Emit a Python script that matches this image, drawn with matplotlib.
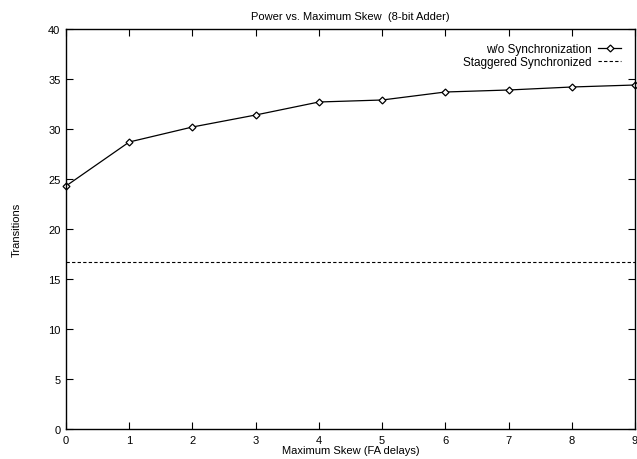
import matplotlib
matplotlib.use('Agg')
import matplotlib.pyplot as plt

plt.rcParams['font.family'] = ['Liberation Sans', 'DejaVu Sans']
plt.rcParams['font.size'] = 8

skew = [0, 1, 2, 3, 4, 5, 6, 7, 8, 9]
no_sync = [24.3, 28.7, 30.2, 31.4, 32.7, 32.9, 33.7, 33.9, 34.2, 34.4]
staggered = 16.7

fig = plt.figure(figsize=(6.37, 4.6), dpi=100)
ax = fig.add_axes([66 / 637, 30 / 460, 569 / 637, 400 / 460])

ax.plot(skew, no_sync, color='black', lw=0.9, marker='D', markersize=3.5,
        markerfacecolor='white', markeredgecolor='black', markeredgewidth=0.9,
        label='w/o Synchronization', clip_on=False)
ax.axhline(staggered, color='black', lw=0.8, ls=(0, (3, 2)),
           label='Staggered Synchronized')

ax.set_xlim(0, 9)
ax.set_ylim(0, 40)
ax.set_xticks(skew)
ax.set_yticks(range(0, 41, 5))
ax.tick_params(direction='in', top=True, right=True, length=5, width=0.8, pad=4)
for s in ax.spines.values():
    s.set_linewidth(1.0)

ax.set_title('Power vs. Maximum Skew  (8-bit Adder)', fontsize=8, pad=7)
ax.set_xlabel('Maximum Skew (FA delays)', fontsize=8, labelpad=0)
ax.set_ylabel('Transitions', fontsize=8)
ax.yaxis.set_label_coords(-44 / 569, 0.5)

ax.legend(loc='upper right', frameon=False, markerfirst=False, handlelength=1.9,
          handletextpad=0.6, labelspacing=0.1, borderaxespad=0.8, fontsize=8.5)

fig.savefig('out.png', dpi=100)
